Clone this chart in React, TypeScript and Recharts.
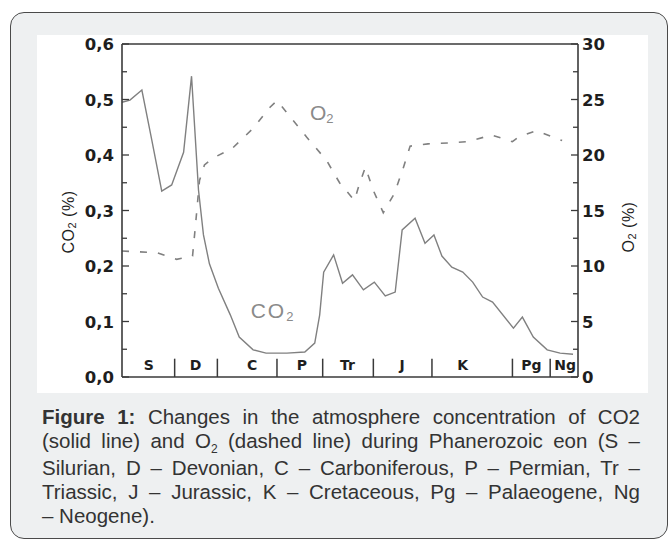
import { LineChart, Line, XAxis, YAxis, ReferenceLine, ReferenceDot } from 'recharts';

// ages in Ma, values in % (CO2) and % (O2)
const co2Age = [453, 445, 433, 423, 413, 403, 391, 383, 376, 371, 365, 356, 344, 335, 321, 308, 287, 269, 259, 254, 250, 240, 231, 221, 210, 199, 188, 178, 171, 158, 148, 139, 131, 121, 110, 100, 90, 80, 59, 50, 39, 25, 12, -1];
const co2Pct = [0.495, 0.499, 0.517, 0.427, 0.335, 0.346, 0.405, 0.542, 0.337, 0.256, 0.204, 0.160, 0.112, 0.072, 0.049, 0.043, 0.043, 0.045, 0.061, 0.112, 0.189, 0.220, 0.169, 0.184, 0.157, 0.171, 0.146, 0.153, 0.265, 0.286, 0.241, 0.256, 0.218, 0.198, 0.189, 0.171, 0.144, 0.135, 0.088, 0.108, 0.072, 0.049, 0.043, 0.041];

const o2Age = [453, 418, 398, 382, 379, 375, 370, 362, 342, 321, 304, 297, 287, 267, 247, 234, 219, 214, 208, 200, 190, 179, 170, 163, 145, 121, 105, 81, 60, 54, 36, 16, 10];
const o2Pct = [11.35, 11.2, 10.6, 10.9, 13.7, 17.7, 19.1, 19.7, 20.6, 22.4, 24.3, 24.9, 23.8, 21.6, 19.5, 17.5, 15.9, 17.4, 18.9, 16.8, 14.8, 16.5, 18.8, 20.8, 21.0, 21.1, 21.2, 21.8, 21.2, 21.6, 22.2, 21.5, 21.3];

const periodNames = ['S', 'D', 'C', 'P', 'Tr', 'J', 'K', 'Pg', 'Ng'];
const periodLabelAge = [426, 379, 322, 272, 226, 171, 110, 41, 7];
const periodBounds = [400, 357, 297, 251, 200, 141, 60, 22];

const topTicks = [400, 350, 300, 250, 200, 150, 100, 50, 0];
const co2Ticks = [0, 0.05, 0.1, 0.15, 0.2, 0.25, 0.3, 0.35, 0.4, 0.45, 0.5, 0.55, 0.6];
const co2Labels = [0, 0.1, 0.2, 0.3, 0.4, 0.5, 0.6];
const o2Ticks = [0, 2.5, 5, 7.5, 10, 12.5, 15, 17.5, 20, 22.5, 25, 27.5, 30];
const o2Labels = [0, 5, 10, 15, 20, 25, 30];

const co2Data = co2Age.map((age, i) => ({ age, v: co2Pct[i] }));
const o2Data = o2Age.map((age, i) => ({ age, v: o2Pct[i] }));

const AXIS = '#3a3a3a';
const INK = '#1e1e1e';
const LINE = '#808080';
const SANS = '"Liberation Sans", Arial, sans-serif';
const tickFont = { fontFamily: '"DejaVu Sans", sans-serif', fontSize: 16.5, fontWeight: 700, fill: INK };

function LeftTick({ x, y, payload }: any) {
  const v = payload.value;
  const major = co2Labels.includes(v);
  return (
    <g>
      <line x1={x} x2={x + (major ? 7 : 5)} y1={y} y2={y} stroke={AXIS} strokeWidth={1.3} />
      {major && (
        <text x={x - 8} y={y} dy={6} textAnchor="end" {...tickFont}>
          {v.toFixed(1).replace('.', ',')}
        </text>
      )}
    </g>
  );
}

function RightTick({ x, y, payload }: any) {
  const v = payload.value;
  const major = o2Labels.includes(v);
  return (
    <g>
      <line x1={x} x2={x - (major ? 7 : 5)} y1={y} y2={y} stroke={AXIS} strokeWidth={1.3} />
      {major && (
        <text x={x + 4} y={y} dy={6} textAnchor="start" {...tickFont}>
          {v}
        </text>
      )}
    </g>
  );
}

function TopTick({ x, y }: any) {
  return <line x1={x} x2={x} y1={y} y2={y + 5} stroke={AXIS} strokeWidth={1.3} />;
}

function PeriodTick({ x, y, payload, index }: any) {
  return (
    <text x={x} y={y - 7} textAnchor="middle" {...tickFont} fontSize={14}>
      {periodNames[index] ?? payload.value}
    </text>
  );
}

const captionLines = [
  <><b>Figure 1:</b> Changes in the atmosphere concentration of CO2</>,
  <>(solid line) and O<span style={{ fontSize: 12, position: 'relative', top: 5 }}>2</span> (dashed line) during Phanerozoic eon (S –</>,
  <>Silurian, D – Devonian, C – Carboniferous, P – Permian, Tr –</>,
  <>Triassic, J – Jurassic, K – Cretaceous, Pg – Palaeogene, Ng</>,
];

export default function App() {
  return (
    <div style={{ position: 'absolute', left: 0, top: 0, width: 669, height: 543, background: '#fff', overflow: 'hidden' }}>
      <div style={{ position: 'absolute', left: 10, top: 12, width: 658, height: 527, boxSizing: 'border-box', border: '1px solid #4a4a4a', borderRadius: 14, background: '#eef0f1' }} />
      <div style={{ position: 'absolute', left: 37, top: 35, width: 611, height: 358, background: '#fff' }}>
        <LineChart width={611} height={358} margin={{ top: 0, right: 0, bottom: 0, left: 0 }}>
          <XAxis xAxisId="top" orientation="top" type="number" dataKey="age" domain={[-6, 453]} reversed
            ticks={topTicks} interval={0} height={9} tickSize={0} tickMargin={0} tickLine={false}
            tick={<TopTick />} axisLine={{ stroke: AXIS, strokeWidth: 1.6 }} />
          <XAxis xAxisId="t" type="number" dataKey="age" domain={[-6, 453]} reversed
            ticks={periodLabelAge} interval={0} height={16} tickSize={0} tickMargin={0} tickLine={false}
            tick={<PeriodTick />} axisLine={{ stroke: AXIS, strokeWidth: 1.6 }} />
          <YAxis yAxisId="co2" type="number" domain={[0, 0.6]} ticks={co2Ticks} interval={0} width={85}
            tickSize={0} tickMargin={0} tickLine={false} tick={<LeftTick />} axisLine={{ stroke: AXIS, strokeWidth: 1.6 }}
            label={{
              content: () => (
                <text x={31} y={187} transform="rotate(-90 31 187)" textAnchor="middle" dominantBaseline="central"
                  fontFamily={SANS} fontSize={16} fill={INK} letterSpacing={0.5}>
                  CO<tspan fontSize={11} dy={4}>2</tspan><tspan dy={-4}> (%)</tspan>
                </text>
              ),
            }} />
          <YAxis yAxisId="o2" orientation="right" type="number" domain={[0, 30]} ticks={o2Ticks} interval={0} width={70}
            tickSize={0} tickMargin={0} tickLine={false} tick={<RightTick />} axisLine={{ stroke: AXIS, strokeWidth: 1.6 }}
            label={{
              content: () => (
                <text x={591} y={192} transform="rotate(-90 591 192)" textAnchor="middle" dominantBaseline="central"
                  fontFamily={SANS} fontSize={16} fill={INK} letterSpacing={0.5}>
                  O<tspan fontSize={11} dy={4}>2</tspan><tspan dy={-4}> (%)</tspan>
                </text>
              ),
            }} />
          {periodBounds.map((b) => (
            <ReferenceLine key={b} xAxisId="t" yAxisId="co2" segment={[{ x: b, y: 0 }, { x: b, y: 0.033 }]}
              stroke={AXIS} strokeWidth={1.5} />
          ))}
          <Line xAxisId="t" yAxisId="o2" data={o2Data} dataKey="v" type="linear" stroke={LINE} strokeWidth={1.6}
            strokeDasharray="7 11" dot={false} activeDot={false} isAnimationActive={false} />
          <Line xAxisId="t" yAxisId="co2" data={co2Data} dataKey="v" type="linear" stroke={LINE} strokeWidth={1.4}
            dot={false} activeDot={false} isAnimationActive={false} />
          <ReferenceDot xAxisId="t" yAxisId="co2" x={301} y={0.119} r={0} fill="none" stroke="none"
            label={{
              content: ({ viewBox }: any) => (
                <text x={viewBox.x} y={viewBox.y} textAnchor="middle" dominantBaseline="central"
                  fontFamily={SANS} fontSize={21} fill="#8a8a8a" letterSpacing={2}>
                  CO<tspan fontSize={13} dy={5}>2</tspan>
                </text>
              ),
            }} />
          <ReferenceDot xAxisId="t" yAxisId="o2" x={252} y={23.8} r={0} fill="none" stroke="none"
            label={{
              content: ({ viewBox }: any) => (
                <text x={viewBox.x} y={viewBox.y} textAnchor="middle" dominantBaseline="central"
                  fontFamily={SANS} fontSize={21} fill="#8a8a8a">
                  O<tspan fontSize={13} dy={5}>2</tspan>
                </text>
              ),
            }} />
        </LineChart>
      </div>
      <div style={{ position: 'absolute', left: 42, top: 405, width: 598, fontFamily: SANS, fontSize: 20.5, lineHeight: '24px', color: '#333' }}>
        {captionLines.map((l, i) => (
          <div key={i} style={{ textAlign: 'justify', textAlignLast: 'justify', whiteSpace: 'nowrap' }}>{l}</div>
        ))}
        <div>– Neogene).</div>
      </div>
    </div>
  );
}
